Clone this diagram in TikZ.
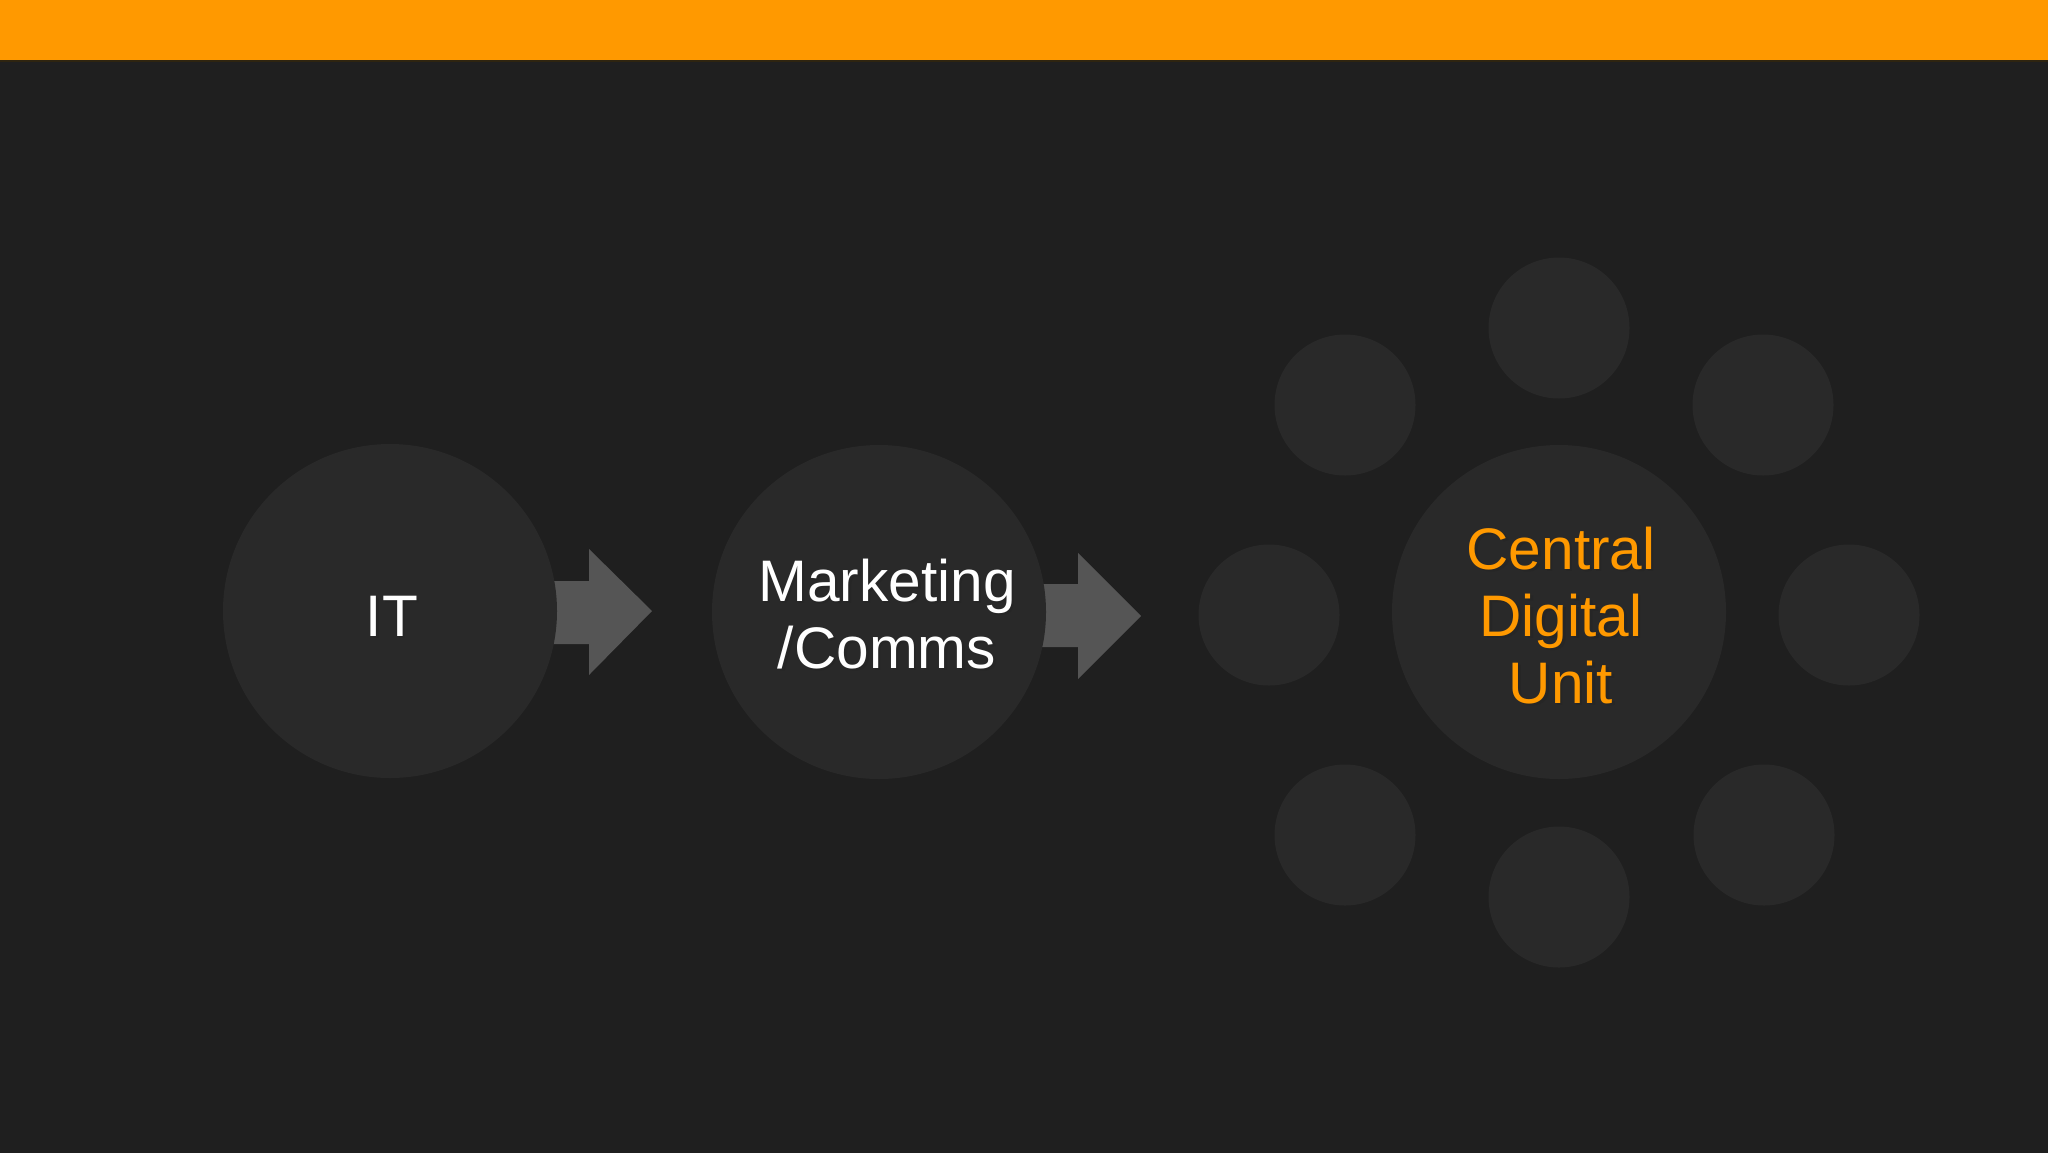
\documentclass[tikz,border=0pt]{standalone}
\usepackage{fontspec}
\setmainfont{Liberation Sans}
\definecolor{bg}{HTML}{1F1F1F}
\definecolor{disc}{HTML}{292929}
\definecolor{arrowgray}{HTML}{555555}
\definecolor{barorange}{HTML}{FF9900}
\definecolor{barline}{HTML}{2E2410}
\tikzset{
  bigdisc/.style={circle, fill=disc, minimum size=334*0.5pt, inner sep=0pt},
  smalldisc/.style={circle, fill=disc, minimum size=141*0.5pt, inner sep=0pt},
  blockarrow/.style={fill=arrowgray},
  lbl/.style={font=\fontsize{29.3pt}{33.5pt}\selectfont, align=center, anchor=base, inner sep=0pt},
  shadowlbl/.style={lbl, text=black!85},
}
\begin{document}
\begin{tikzpicture}[x=0.5pt,y=-0.5pt]
\useasboundingbox (0,0) rectangle (2048,1152);
\fill[bg] (-10,-10) rectangle (2058,1162);
\fill[barorange] (-10,-10) rectangle (2058,60);
\fill[barline] (-10,60) rectangle (2058,62);
% block arrows (drawn before the discs so the discs cut the shaft ends)
\fill[blockarrow] (530,581) -- (589,581) -- (589,549) -- (652,611) -- (589,675) -- (589,644) -- (530,644) -- cycle;
\fill[blockarrow] (1020,584) -- (1078,584) -- (1078,553) -- (1141,616) -- (1078,679) -- (1078,647) -- (1020,647) -- cycle;
% main discs
\node[bigdisc] (it) at (390,611) {};
\node[bigdisc] (mc) at (879,612) {};
\node[bigdisc] (cdu) at (1559,612) {};
% satellite discs
\node[smalldisc] (s1) at (1345,405) {};
\node[smalldisc] (s2) at (1559,328) {};
\node[smalldisc] (s3) at (1763,405) {};
\node[smalldisc] (s4) at (1269,615) {};
\node[smalldisc] (s5) at (1849,615) {};
\node[smalldisc] (s6) at (1345,835) {};
\node[smalldisc] (s7) at (1559,897) {};
\node[smalldisc] (s8) at (1764,835) {};
% labels with shadows (base anchor = baseline of the last line)
\node[shadowlbl] at (394.5,638.5) {IT};
\node[lbl, text=white] (itl) at (392,636) {IT};
\node[shadowlbl] at (889.5,670.5) {Marketing\\/Comms};
\node[lbl, text=white] (mcl) at (887,668) {Marketing\\/Comms};
\node[shadowlbl] at (1563.5,705.5) {Central\\Digital\\Unit};
\node[lbl, text=barorange] (cdul) at (1561,703) {Central\\Digital\\Unit};
\end{tikzpicture}
\end{document}
